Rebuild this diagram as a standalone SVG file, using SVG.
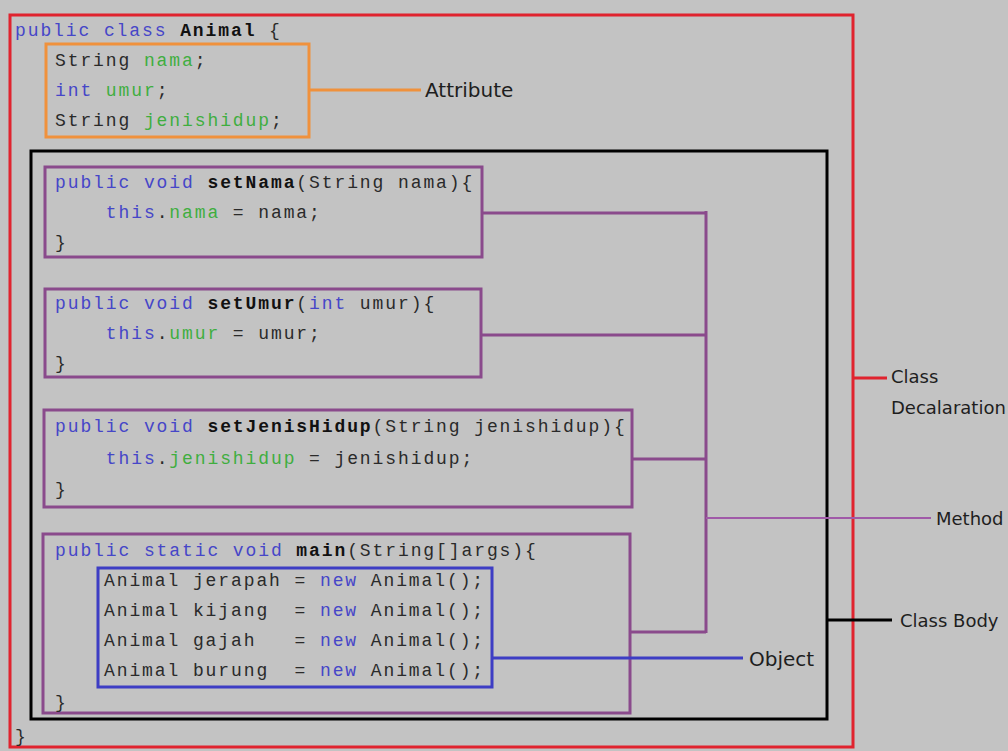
<svg xmlns="http://www.w3.org/2000/svg" width="1008" height="751" viewBox="0 0 1008 751">
<style>
.code{font-family:"Liberation Mono","Courier New",monospace;font-size:18px;letter-spacing:1.9px;fill:#2a2a2a;white-space:pre}
.kw{fill:#4646c8}
.id{fill:#3fae3f}
.b{font-weight:bold;fill:#111}
.lbl{font-family:"DejaVu Sans",sans-serif;font-size:20px;fill:#1e1e1e}
.sm{font-size:18px}
.box{fill:none;stroke-width:3}
.red{stroke:#e0232e}
.org{stroke:#f0913c}
.blk{stroke:#000}
.pur{stroke:#8a4a8c}
.blu{stroke:#3d3dc4}
</style>
<rect width="1008" height="751" fill="#c3c3c3"/>

<g id="class-declaration">
<rect class="box red" x="10" y="15" width="843" height="732"/>
<text class="code" x="15" y="36" xml:space="preserve"><tspan class="kw">public class</tspan> <tspan class="b">Animal</tspan> {</text>
<text class="code" x="15" y="742" xml:space="preserve">}</text>
</g>

<g id="attributes">
<rect class="box org" x="46" y="44" width="263" height="93"/>
<text class="code" x="55" y="66" xml:space="preserve">String <tspan class="id">nama</tspan>;</text>
<text class="code" x="55" y="96" xml:space="preserve"><tspan class="kw">int</tspan> <tspan class="id">umur</tspan>;</text>
<text class="code" x="55" y="126" xml:space="preserve">String <tspan class="id">jenishidup</tspan>;</text>
</g>

<g id="class-body">
<rect class="box blk" x="31" y="151" width="796" height="568"/>
</g>

<g id="method-setNama">
<rect class="box pur" x="45" y="167" width="437" height="90"/>
<text class="code" x="55" y="188" xml:space="preserve"><tspan class="kw">public void</tspan> <tspan class="b">setNama</tspan>(String nama){</text>
<text class="code" x="55" y="218" xml:space="preserve">    <tspan class="kw">this</tspan>.<tspan class="id">nama</tspan> = nama;</text>
<text class="code" x="55" y="248" xml:space="preserve">}</text>
</g>

<g id="method-setUmur">
<rect class="box pur" x="45" y="289" width="436" height="88"/>
<text class="code" x="55" y="309" xml:space="preserve"><tspan class="kw">public void</tspan> <tspan class="b">setUmur</tspan>(<tspan class="kw">int</tspan> umur){</text>
<text class="code" x="55" y="339" xml:space="preserve">    <tspan class="kw">this</tspan>.<tspan class="id">umur</tspan> = umur;</text>
<text class="code" x="55" y="369" xml:space="preserve">}</text>
</g>

<g id="method-setJenisHidup">
<rect class="box pur" x="44" y="410" width="588" height="97"/>
<text class="code" x="55" y="432" xml:space="preserve"><tspan class="kw">public void</tspan> <tspan class="b">setJenisHidup</tspan>(String jenishidup){</text>
<text class="code" x="55" y="464" xml:space="preserve">    <tspan class="kw">this</tspan>.<tspan class="id">jenishidup</tspan> = jenishidup;</text>
<text class="code" x="55" y="495" xml:space="preserve">}</text>
</g>

<g id="method-main">
<rect class="box pur" x="43" y="534" width="587" height="179"/>
<text class="code" x="55" y="556" xml:space="preserve"><tspan class="kw">public static void</tspan> <tspan class="b">main</tspan>(String[]args){</text>
<text class="code" x="55" y="708" xml:space="preserve">}</text>
</g>

<g id="objects">
<rect class="box blu" x="98" y="568" width="394" height="119"/>
<text class="code" x="104" y="586" xml:space="preserve">Animal jerapah = <tspan class="kw">new</tspan> Animal();</text>
<text class="code" x="104" y="616" xml:space="preserve">Animal kijang  = <tspan class="kw">new</tspan> Animal();</text>
<text class="code" x="104" y="646" xml:space="preserve">Animal gajah   = <tspan class="kw">new</tspan> Animal();</text>
<text class="code" x="104" y="676" xml:space="preserve">Animal burung  = <tspan class="kw">new</tspan> Animal();</text>
</g>

<g id="connectors" fill="none">
<path d="M309 90 H421" stroke="#f0913c" stroke-width="3"/>
<path d="M482 213 H706 M481 335 H706 M632 459 H706 M630 632 H706 M706 211 V633" stroke="#8a4a8c" stroke-width="3"/>
<path d="M706 518 H931" stroke="#a05aa8" stroke-width="2"/>
<path d="M853 378 H887" stroke="#e0232e" stroke-width="3"/>
<path d="M827 620 H892" stroke="#000" stroke-width="3"/>
<path d="M492 658 H743" stroke="#3d3dc4" stroke-width="3"/>
</g>

<g id="labels">
<text class="lbl" x="425" y="97">Attribute</text>
<text class="lbl sm" x="891" y="383">Class</text>
<text class="lbl sm" x="891" y="414">Decalaration</text>
<text class="lbl sm" x="936" y="525">Method</text>
<text class="lbl sm" x="900" y="627">Class Body</text>
<text class="lbl" x="749" y="666">Object</text>
</g>
</svg>
